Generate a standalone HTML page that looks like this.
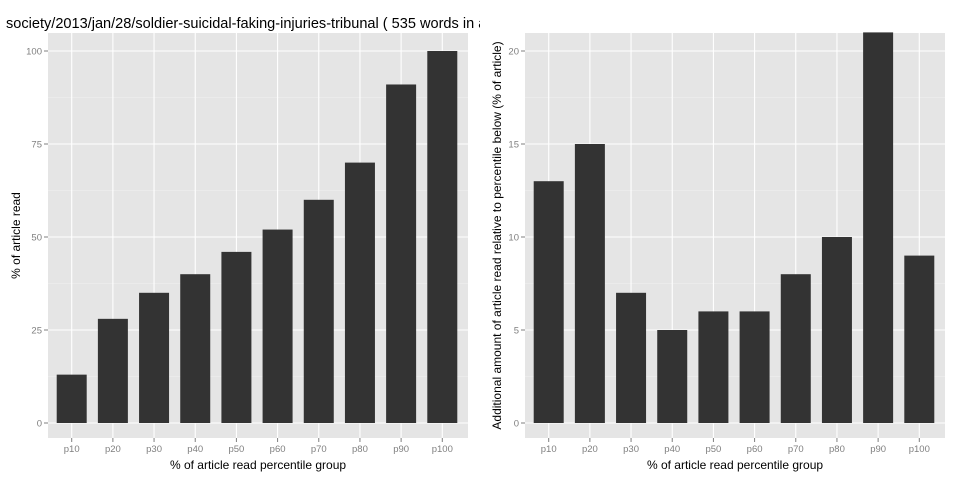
<!DOCTYPE html>
<html><head><meta charset="utf-8"><style>
body{margin:0;background:#fff}
svg{display:block;font-family:"Liberation Sans",sans-serif}
</style></head><body>
<svg id="c" width="960" height="480"></svg>
<script>
const categories=["p10","p20","p30","p40","p50","p60","p70","p80","p90","p100"];
const readValues=[13,28,35,40,46,52,60,70,91,100];
const addValues=[13,15,7,5,6,6,8,10,21,9];
const leftTicks=[0,25,50,75,100];
const rightTicks=[0,5,10,15,20];
const svg=document.getElementById('c');
const NS='http://www.w3.org/2000/svg';
function mk(t,a,p){const e=document.createElementNS(NS,t);for(const k in a)e.setAttribute(k,a[k]);(p||svg).appendChild(e);return e;}
function panel(name,x0,x1,yTop,yBot,yMax,vals,ticks,minor,ylab,ylabX){
  const g=mk('g',{});
  
  
  mk('rect',{x:x0,y:yTop,width:x1-x0,height:yBot-yTop,fill:'#e5e5e5'},g);
  const y0=423;
  const sy=v=>y0-(v/yMax)*(y0-51);
  const n=categories.length, step=(x1-x0)/(n+0.2);
  const cx=i=>x0+step*(0.6+i)-1;
  ticks.forEach((t,i)=>{
    const m=t+minor;if(sy(m)>yTop)mk('line',{x1:x0,x2:x1,y1:sy(m),y2:sy(m),stroke:'#f2f2f2','stroke-width':0.6},g);
    mk('line',{x1:x0,x2:x1,y1:sy(t),y2:sy(t),stroke:'#fff','stroke-width':1.1},g);
    mk('line',{x1:x0-4,x2:x0,y1:sy(t),y2:sy(t),stroke:'#7f7f7f'},g);
    const tx=mk('text',{x:x0-6,y:sy(t)+3.5,'text-anchor':'end','font-size':9.5,fill:'#7f7f7f'},g);tx.textContent=t;
    
    
  });
  categories.forEach((c,i)=>{
    mk('line',{x1:cx(i),x2:cx(i),y1:yTop,y2:yBot,stroke:'#fff','stroke-width':1.1},g);
    mk('line',{x1:cx(i),x2:cx(i),y1:yBot,y2:yBot+4,stroke:'#7f7f7f'},g);
    const tx=mk('text',{x:cx(i),y:yBot+14,'text-anchor':'middle','font-size':9.5,fill:'#7f7f7f'},g);tx.textContent=c;
    
    
  });
  vals.forEach((v,i)=>{
    const r=mk('rect',{x:cx(i)-15,y:sy(v),width:30,height:y0-sy(v),fill:'#333'},g);
    
    
  });
  const xl=mk('text',{x:(x0+x1)/2,y:469,'text-anchor':'middle','font-size':12,fill:'#000'},g);
  xl.textContent='% of article read percentile group';
  
  
  const yl=mk('text',{x:0,y:0,'text-anchor':'middle','font-size':12,fill:'#000',transform:`translate(${ylabX},${(yTop+yBot)/2}) rotate(-90)`},g);
  yl.textContent=ylab;
  
  
}
panel('left-panel',48,468,33,438,100,readValues,leftTicks,12.5,'% of article read',20);
panel('right-panel',525,945,33,438,20,addValues,rightTicks,2.5,'Additional amount of article read relative to percentile below (% of article)',501);
const cp=mk('clipPath',{id:'cl'});mk('rect',{x:0,y:0,width:480,height:40},cp);
const t=mk('text',{x:6,y:28,'font-size':14.55,fill:'#000','clip-path':'url(#cl)'});
t.textContent='society/2013/jan/28/soldier-suicidal-faking-injuries-tribunal ( 535 words in article)';


</script>
</body></html>
